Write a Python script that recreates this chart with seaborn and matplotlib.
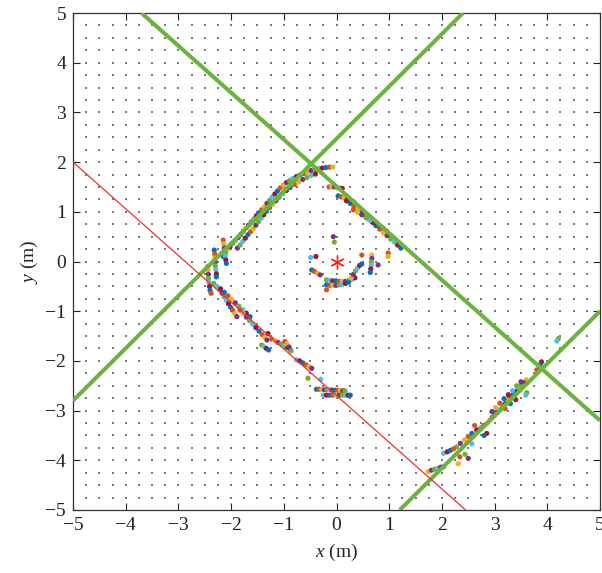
import numpy as np
import pandas as pd
import matplotlib
matplotlib.use("Agg")
import matplotlib.pyplot as plt
import seaborn as sns

# ---------------- data ----------------
# background lattice of reference points
lattice = [-4.75, -4.5, -4.25, -4.0, -3.75, -3.5, -3.25, -3.0, -2.75, -2.5, -2.25, -2.0,
           -1.75, -1.5, -1.25, -1.0, -0.75, -0.5, -0.25, 0.0, 0.25, 0.5, 0.75, 1.0, 1.25,
           1.5, 1.75, 2.0, 2.25, 2.5, 2.75, 3.0, 3.25, 3.5, 3.75, 4.0, 4.25, 4.5, 4.75]

# fitted lines (endpoints)
green1_x = [-3.7, 5.0]
green1_y = [5.0, -3.2]
green2_x = [-5.0, 2.4]
green2_y = [-2.8, 5.0]
green3_x = [1.2, 5.0]
green3_y = [-5.0, -1.0]
red_x = [-5.0, 2.45]
red_y = [2.0, -5.0]

# sensor position
origin_x = [0.0]
origin_y = [0.0]

# detected points, grouped by cluster
arc_outer_x = [-2.15, -2.11, -2.07, -2.02, -1.97, -1.92, -1.87, -1.82, -1.77, -1.72, -1.67, -1.62,
               -1.57, -1.52, -1.47, -1.42, -1.37, -1.32, -1.27, -1.22, -1.17, -1.12, -1.07, -1.01,
               -0.95, -0.89, -0.83, -0.76, -0.69, -0.62, -0.55, -0.48, -0.41, -0.34, -0.27, -0.20,
               -0.13, -0.07]
arc_outer_y = [0.10, 0.17, 0.24, 0.30, 0.36, 0.42, 0.48, 0.54, 0.61, 0.67, 0.73, 0.80,
               0.86, 0.92, 0.98, 1.04, 1.10, 1.17, 1.23, 1.30, 1.36, 1.42, 1.48, 1.54,
               1.59, 1.63, 1.67, 1.71, 1.74, 1.77, 1.80, 1.83, 1.85, 1.87, 1.88, 1.89,
               1.90, 1.90]
arc_inner_x = [-1.88, -1.83, -1.78, -1.73, -1.68, -1.63, -1.58, -1.53, -1.48, -1.43, -1.38, -1.33,
               -1.27, -1.21, -1.15, -1.09, -1.02, -0.95, -0.88, -0.80, -0.72, -0.64, -0.56, -0.48,
               -0.40]
arc_inner_y = [0.27, 0.33, 0.40, 0.47, 0.54, 0.60, 0.66, 0.73, 0.80, 0.87, 0.94, 1.01,
               1.08, 1.15, 1.22, 1.29, 1.36, 1.43, 1.49, 1.55, 1.60, 1.65, 1.69, 1.73,
               1.76]
left_x = [-2.32, -2.31, -2.31, -2.30, -2.30, -2.29, -2.28, -2.28,
          -2.15, -2.14, -2.13, -2.12, -2.11, -2.10, -2.09,
          -2.44, -2.44, -2.43, -2.43, -2.42, -2.41, -2.40, -2.38]
left_y = [0.23, 0.15, 0.07, -0.01, -0.09, -0.17, -0.25, -0.31,
          0.43, 0.35, 0.27, 0.19, 0.11, 0.03, -0.04,
          -0.10, -0.18, -0.26, -0.34, -0.42, -0.50, -0.58, -0.64]
diag_x = [-2.21, -2.17, -2.13, -2.09, -2.05, -2.01, -1.97, -1.93, -1.89,
          -2.33, -2.27, -2.20, -2.13, -2.06, -1.99, -1.92, -1.85, -1.78, -1.71, -1.64,
          -1.83, -1.77, -1.71, -1.65, -1.59, -1.53, -1.47, -1.41, -1.36, -1.32,
          -1.42, -1.37, -1.33, -1.29,
          -1.23, -1.17, -1.11, -1.05, -0.99, -0.93, -0.88,
          -0.98, -0.94, -0.90, -0.86,
          -0.76, -0.70, -0.64, -0.58, -0.52, -0.47,
          -0.54, -0.30, -1.30]
diag_y = [-0.57, -0.64, -0.71, -0.78, -0.85, -0.92, -0.98, -1.05, -1.11,
          -0.44, -0.50, -0.55, -0.62, -0.69, -0.76, -0.83, -0.90, -0.97, -1.04, -1.11,
          -0.98, -1.05, -1.12, -1.19, -1.26, -1.33, -1.40, -1.47, -1.53, -1.58,
          -1.68, -1.72, -1.75, -1.78,
          -1.56, -1.59, -1.63, -1.66, -1.69, -1.73, -1.77,
          -1.61, -1.66, -1.72, -1.80,
          -1.98, -2.00, -2.04, -2.08, -2.12, -2.15,
          -2.35, -2.37, -1.45]
flat_x = [-0.38, -0.33, -0.28, -0.23, -0.18, -0.13, -0.08, -0.03, 0.02, 0.07, 0.12, 0.16,
          -0.25, -0.19, -0.13, -0.07, -0.01, 0.05, 0.11, 0.17, 0.22, 0.26]
flat_y = [-2.57, -2.57, -2.58, -2.58, -2.58, -2.58, -2.59, -2.59, -2.59, -2.60, -2.60, -2.60,
          -2.69, -2.69, -2.69, -2.69, -2.69, -2.69, -2.69, -2.69, -2.69, -2.69]
upper_right_x = [-0.14, -0.09, -0.04, 0.01, 0.06, 0.11,
                 0.03, 0.09, 0.15, 0.21, 0.27, 0.33,
                 0.19, 0.26, 0.33, 0.40, 0.47, 0.54, 0.61, 0.68, 0.75, 0.82, 0.89, 0.96,
                 1.03, 1.10, 1.16, 1.22,
                 0.32, 0.40, 0.48, 0.56, 0.64, 0.72, 0.80, 0.88, 0.95]
upper_right_y = [1.50, 1.50, 1.50, 1.49, 1.48, 1.47,
                 1.32, 1.30, 1.28, 1.26, 1.23, 1.20,
                 1.22, 1.17, 1.11, 1.05, 0.98, 0.92, 0.85, 0.79, 0.72, 0.65, 0.58, 0.52,
                 0.45, 0.39, 0.33, 0.27,
                 1.04, 0.99, 0.94, 0.88, 0.83, 0.77, 0.72, 0.67, 0.62]
inner_x = [-0.06, -0.04, -0.49, -0.39,
           -0.47, -0.42, -0.36, -0.31,
           -0.19, -0.13, -0.07, -0.01, 0.05, 0.11, 0.17, 0.23, 0.29, 0.35,
           -0.19, -0.13, -0.07, -0.01, 0.05, 0.11, 0.17, 0.23,
           -0.19,
           0.28, 0.32, 0.36, 0.40, 0.44, 0.48,
           0.48,
           0.67, 0.67, 0.66, 0.66, 0.65, 0.64,
           0.98, 0.98, 0.79]
inner_y = [0.50, 0.39, 0.08, 0.10,
           -0.17, -0.20, -0.24, -0.27,
           -0.37, -0.38, -0.39, -0.39, -0.40, -0.40, -0.40, -0.38, -0.36, -0.33,
           -0.47, -0.48, -0.48, -0.48, -0.47, -0.46, -0.44, -0.42,
           -0.57,
           -0.33, -0.26, -0.19, -0.13, -0.08, -0.05,
           0.13,
           0.13, 0.06, -0.01, -0.08, -0.15, -0.22,
           0.17, 0.10, -0.07]
lower_right_x = [4.21, 4.18,
                 3.89, 3.86, 3.80,
                 3.60, 3.55, 3.50, 3.45, 3.40, 3.35, 3.30, 3.25, 3.20, 3.15, 3.10, 3.05,
                 3.00, 2.95, 2.91,
                 3.50, 3.42, 3.34, 3.26, 3.18, 3.10, 3.02, 2.95,
                 3.61, 3.59, 3.40, 3.30, 3.20,
                 2.85, 2.80, 2.75, 2.70, 2.66,
                 2.57, 2.50, 2.43, 2.35, 2.28,
                 2.03, 2.10, 2.16, 2.22,
                 1.74, 1.80, 1.86, 1.92, 1.98, 2.03,
                 2.34, 2.31, 2.50, 2.44, 2.57, 2.85, 2.80, 2.62]
lower_right_y = [-1.55, -1.60,
                 -2.02, -2.08, -2.18,
                 -2.38, -2.44, -2.50, -2.56, -2.62, -2.68, -2.74, -2.80, -2.86, -2.92, -2.98, -3.04,
                 -3.09, -3.14, -3.19,
                 -2.42, -2.50, -2.60, -2.68, -2.76, -2.85, -2.94, -3.02,
                 -2.64, -2.69, -2.78, -2.86, -2.96,
                 -3.26, -3.30, -3.34, -3.37, -3.39,
                 -3.46, -3.52, -3.59, -3.66, -3.73,
                 -3.86, -3.83, -3.80, -3.77,
                 -4.23, -4.20, -4.18, -4.16, -4.14, -4.13,
                 -3.93, -4.07, -3.96, -3.88, -3.67, -3.46, -3.50, -3.30]

tick_vals = [-5, -4, -3, -2, -1, 0, 1, 2, 3, 4, 5]

# ---------------- style ----------------
sns.set_theme(style="ticks")
plt.rcParams["font.family"] = "serif"
plt.rcParams["font.serif"] = ["Liberation Serif", "DejaVu Serif"]
plt.rcParams["mathtext.fontset"] = "custom"
plt.rcParams["mathtext.rm"] = "Liberation Serif"
plt.rcParams["mathtext.it"] = "Liberation Serif:italic"

palette = ["#0072BD", "#D95319", "#EDB120", "#7E2F8E", "#77AC30", "#4DBEEE", "#A2142F"]

fig = plt.figure(figsize=(6.02, 5.73), dpi=100)
ax = fig.add_axes([73 / 602, 1 - 510 / 573, 527 / 602, 497 / 573])

# background lattice
gx, gy = np.meshgrid(lattice, lattice)
ax.scatter(gx.ravel(), gy.ravel(), s=0.9, marker="s", color="#7a7a7a",
           linewidths=0, zorder=1)

# lines
ax.plot(green1_x, green1_y, color="#6ab43e", lw=2.9, solid_capstyle="butt", zorder=3)
ax.plot(green2_x, green2_y, color="#6ab43e", lw=2.9, solid_capstyle="butt", zorder=3)
ax.plot(green3_x, green3_y, color="#6ab43e", lw=2.9, solid_capstyle="butt", zorder=3)
ax.plot(red_x, red_y, color="#f0302a", lw=0.9, zorder=4)

# points
all_x = (arc_outer_x + arc_inner_x + left_x + diag_x + flat_x + upper_right_x
         + inner_x + lower_right_x)
all_y = (arc_outer_y + arc_inner_y + left_y + diag_y + flat_y + upper_right_y
         + inner_y + lower_right_y)
df = pd.DataFrame({"x": all_x, "y": all_y})
df["c"] = [palette[i % len(palette)] for i in range(len(df))]
sns.scatterplot(data=df, x="x", y="y", hue="c", palette={c: c for c in palette},
                s=14, linewidth=0, legend=False, ax=ax, zorder=2)

# origin asterisk
ax.plot(origin_x, origin_y, marker=(6, 2, 0), color="#ff2020", markersize=10,
        markeredgewidth=1.0, linestyle="none", zorder=5)

ax.set_xlim(-5, 5)
ax.set_ylim(-5, 5)
ax.set_xticks(tick_vals)
ax.set_yticks(tick_vals)
ax.tick_params(direction="in", top=True, right=True, length=5, width=0.8,
               labelsize=14, colors="#222222", pad=5)
for sp in ax.spines.values():
    sp.set_visible(True)
    sp.set_linewidth(0.9)
    sp.set_color("#333333")

ax.set_xlabel(r"$x$ (m)", fontsize=14, labelpad=6)
ax.set_ylabel(r"$y$ (m)", fontsize=14, labelpad=4)

fig.savefig("out.png", dpi=100)
